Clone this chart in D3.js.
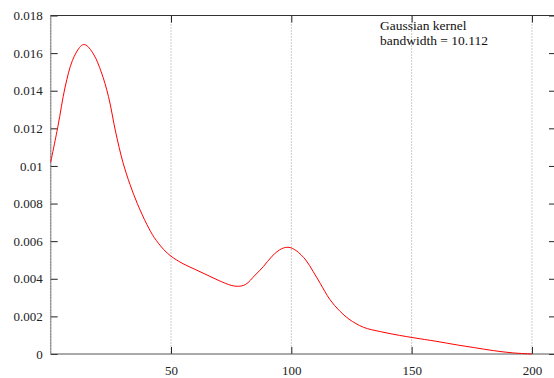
<!DOCTYPE html>
<html>
<head>
<meta charset="utf-8">
<script src="https://cdn.jsdelivr.net/npm/d3@7/dist/d3.min.js"></script>
<style>
  body { margin: 0; background: #fff; }
  svg { display: block; }
  .tick text { font-family: "Liberation Serif", serif; font-size: 13px; fill: #222; }
</style>
</head>
<body>
<svg id="chart" width="554" height="378"></svg>
<script>
// density estimate
var xs = [0, 3, 6, 9, 12, 13.5, 15, 18, 21, 24, 27, 30, 33, 36, 40, 43, 47, 50,
          55, 60, 65, 70, 75, 78, 81, 85, 88.4, 92, 96, 99, 102, 106, 109, 112, 116,
          120, 124, 130, 137, 145, 151, 160, 169, 176, 184, 192, 200]
var dens = [0.0102, 0.0121, 0.0142, 0.0156, 0.0163, 0.01645, 0.0164, 0.0159, 0.0150,
            0.0137, 0.0118, 0.0102, 0.0090, 0.0080, 0.00688, 0.0062, 0.00555, 0.0052,
            0.0048, 0.0045, 0.0042, 0.0039, 0.00365, 0.0036, 0.0037, 0.0042, 0.00465,
            0.0052, 0.0056, 0.00567, 0.0055, 0.0050, 0.0044, 0.00376, 0.0029,
            0.0023, 0.00185, 0.00142, 0.00119, 0.00099, 0.00086, 0.00068, 0.00048,
            0.00034, 0.00018, 0.00006, 0.0]
var xTicks = [50, 100, 150, 200]
var yTicks = [0, 0.002, 0.004, 0.006, 0.008, 0.01, 0.012, 0.014, 0.016, 0.018]
var legendLines = ["Gaussian kernel", "bandwidth = 10.112"]

var svg = d3.select("#chart")
var plotL = 50.7, plotR = 556, plotT = 15.5, plotB = 354

var x = d3.scaleLinear().domain([0, 210]).range([plotL, plotR])
var y = d3.scaleLinear().domain([0, 0.018]).range([plotB, plotT])

// vertical dotted grid
svg.append("g").selectAll("line")
    .data([0].concat(xTicks))
    .enter().append("line")
    .attr("x1", function(d) { return x(d) })
    .attr("x2", function(d) { return x(d) })
    .attr("y1", plotT).attr("y2", plotB)
    .attr("stroke", "#999")
    .attr("stroke-width", 1)
    .attr("stroke-dasharray", "1,2")

function fmt(d) { return d == 0 ? "0" : String(+d.toFixed(3)) }

// bottom axis
var gx = svg.append("g")
    .attr("transform", "translate(0," + plotB + ")")
    .call(d3.axisBottom(x).tickValues(xTicks).tickSize(-7).tickPadding(12))
gx.select(".domain").remove()
gx.selectAll(".tick line").attr("stroke", "#222")

// top ticks
var gt = svg.append("g")
    .attr("transform", "translate(0," + plotT + ")")
    .call(d3.axisTop(x).tickValues(xTicks).tickSize(-7).tickFormat(""))
gt.select(".domain").remove()
gt.selectAll(".tick line").attr("stroke", "#222")

// left axis
var gy = svg.append("g")
    .attr("transform", "translate(" + plotL + ",0)")
    .call(d3.axisLeft(y).tickValues(yTicks).tickSize(-7).tickPadding(8).tickFormat(fmt))
gy.select(".domain").remove()
gy.selectAll(".tick line").attr("stroke", "#222")

// right ticks
var gr = svg.append("g")
    .attr("transform", "translate(" + plotR + ",0)")
    .call(d3.axisRight(y).tickValues(yTicks).tickSize(-7).tickFormat(""))
gr.select(".domain").remove()
gr.selectAll(".tick line").attr("stroke", "#222")

// borders
svg.append("line").attr("x1", plotL).attr("x2", plotR).attr("y1", plotT).attr("y2", plotT)
    .attr("stroke", "#333")
svg.append("line").attr("x1", plotL).attr("x2", plotR).attr("y1", plotB).attr("y2", plotB)
    .attr("stroke", "#555")
svg.append("line").attr("x1", plotL).attr("x2", plotL).attr("y1", plotT).attr("y2", plotB)
    .attr("stroke", "#555").attr("stroke-width", 1.5).attr("stroke-dasharray", "1,1")

// density curve
var line = d3.line()
    .x(function(d, i) { return x(xs[i]) })
    .y(function(d) { return y(d) })
    .curve(d3.curveCatmullRom.alpha(0.5))
svg.append("path")
    .datum(dens)
    .attr("d", line)
    .attr("fill", "none")
    .attr("stroke", "#f00")
    .attr("stroke-width", 1)

// label
svg.append("g").selectAll("text")
    .data(legendLines)
    .enter().append("text")
    .attr("x", 380)
    .attr("y", function(d, i) { return 30 + i * 14.5 })
    .attr("font-family", "Liberation Serif, serif")
    .attr("font-size", 13.5)
    .attr("fill", "#111")
    .text(function(d) { return d })
</script>
</body>
</html>
